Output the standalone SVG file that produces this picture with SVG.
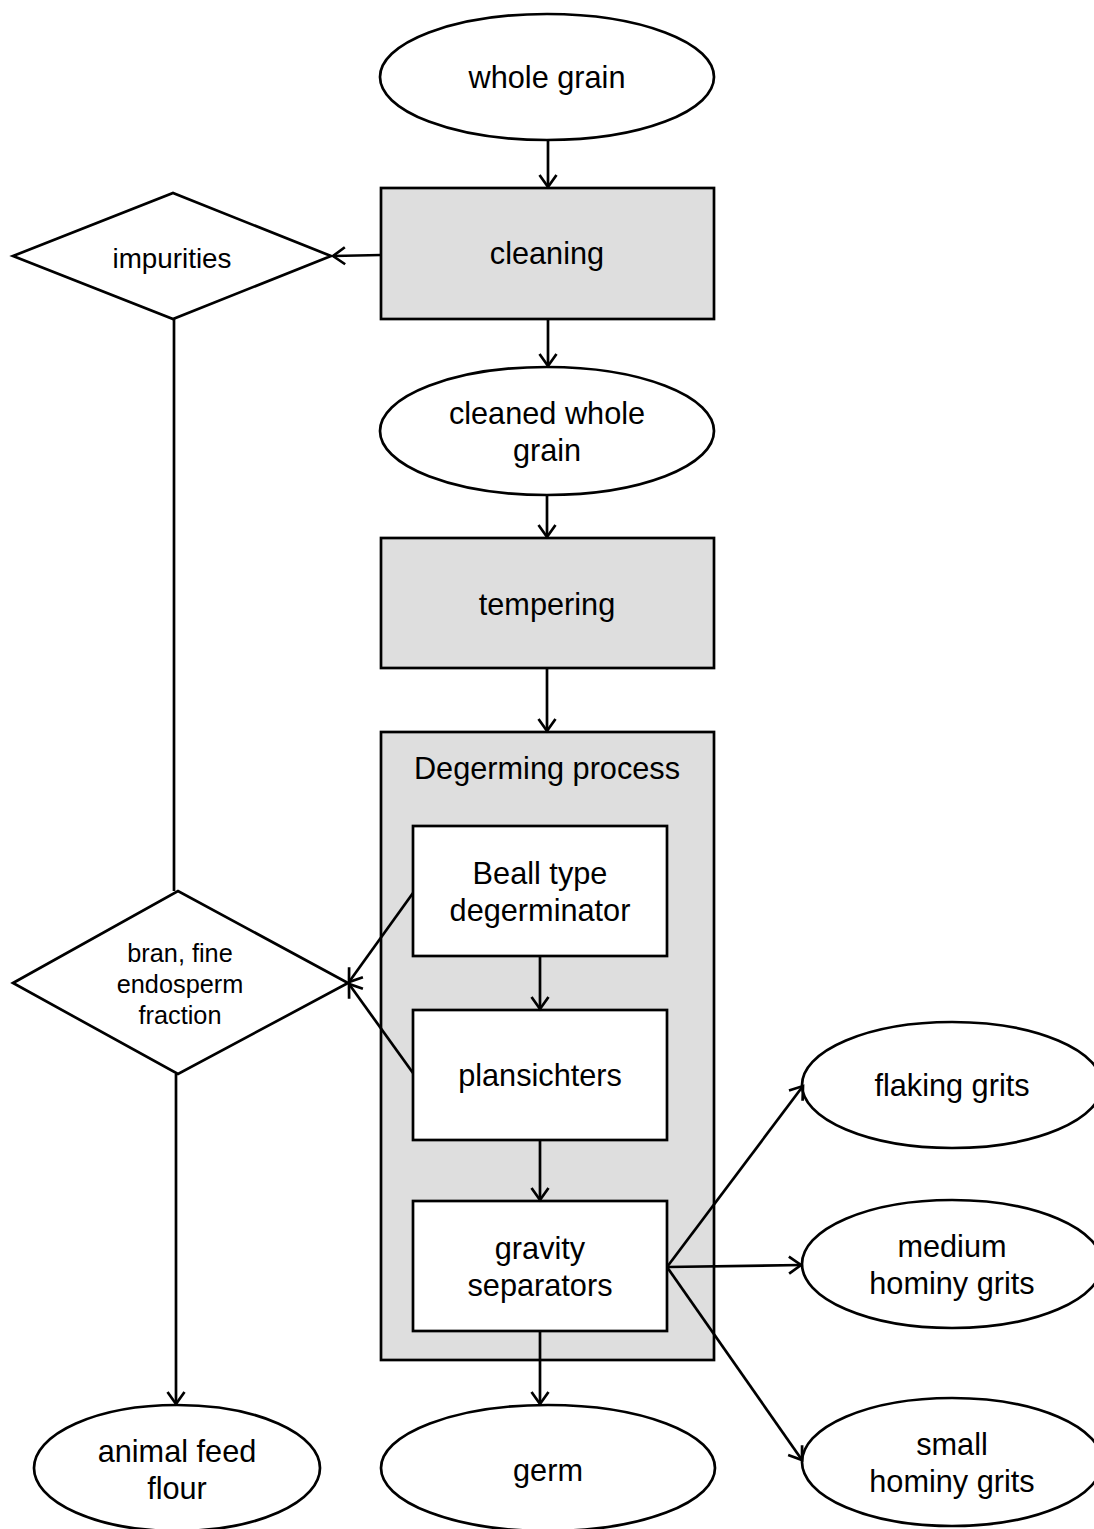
<svg xmlns="http://www.w3.org/2000/svg" width="1094" height="1529" viewBox="0 0 1094 1529">
<defs>
<marker id="arr" markerUnits="userSpaceOnUse" markerWidth="20" markerHeight="20" viewBox="-14 -10 16 20" refX="0" refY="0" orient="auto">
<path d="M-12,-8.5 L0,0 L-12,8.5" fill="none" stroke="#000" stroke-width="2.7"/>
</marker>
</defs>
<style>
.s{stroke:#000;stroke-width:2.7;}
.w{fill:#fff;}
.g{fill:#dedede;}
.t{font-family:"Liberation Sans",Arial,sans-serif;font-size:30.7px;text-anchor:middle;fill:#000;}
.sm{font-size:25.3px;}
.im{font-size:27.8px;}
.c{fill:none;stroke:#000;stroke-width:2.7;}
</style>
<rect width="1094" height="1529" fill="#fff"/>
<g id="degerming">
<rect class="s g" x="381" y="732" width="333" height="628"/>
<text class="t" x="547" y="779">Degerming process</text>
</g>
<g id="whole-grain">
<ellipse class="s w" cx="547" cy="77" rx="167" ry="63"/>
<text class="t" x="547" y="88">whole grain</text>
</g>
<g id="cleaning">
<rect class="s g" x="381" y="188" width="333" height="131"/>
<text class="t" x="547" y="264">cleaning</text>
</g>
<g id="impurities">
<polygon class="s w" points="13,256 173,193 331,256 173,319"/>
<text class="t im" x="172" y="268">impurities</text>
</g>
<g id="cleaned-whole-grain">
<ellipse class="s w" cx="547" cy="431" rx="167" ry="64"/>
<text class="t" x="547" y="424">cleaned whole</text>
<text class="t" x="547" y="461">grain</text>
</g>
<g id="tempering">
<rect class="s g" x="381" y="538" width="333" height="130"/>
<text class="t" x="547" y="615">tempering</text>
</g>
<g id="beall">
<rect class="s w" x="413" y="826" width="254" height="130"/>
<text class="t" x="540" y="884">Beall type</text>
<text class="t" x="540" y="921">degerminator</text>
</g>
<g id="plansichters">
<rect class="s w" x="413" y="1010" width="254" height="130"/>
<text class="t" x="540" y="1086">plansichters</text>
</g>
<g id="gravity">
<rect class="s w" x="413" y="1201" width="254" height="130"/>
<text class="t" x="540" y="1259">gravity</text>
<text class="t" x="540" y="1296">separators</text>
</g>
<g id="bran">
<polygon class="s w" points="13,983 178,891 348,983 178,1074"/>
<text class="t sm" x="180" y="962">bran, fine</text>
<text class="t sm" x="180" y="993">endosperm</text>
<text class="t sm" x="180" y="1024">fraction</text>
</g>
<g id="animal-feed">
<ellipse class="s w" cx="177" cy="1468" rx="143" ry="63"/>
<text class="t" x="177" y="1462">animal feed</text>
<text class="t" x="177" y="1499">flour</text>
</g>
<g id="germ">
<ellipse class="s w" cx="548" cy="1468" rx="167" ry="63"/>
<text class="t" x="548" y="1481">germ</text>
</g>
<g id="flaking">
<ellipse class="s w" cx="952" cy="1085" rx="150" ry="63"/>
<text class="t" x="952" y="1096">flaking grits</text>
</g>
<g id="medium">
<ellipse class="s w" cx="952" cy="1264" rx="150" ry="64"/>
<text class="t" x="952" y="1257">medium</text>
<text class="t" x="952" y="1294">hominy grits</text>
</g>
<g id="small">
<ellipse class="s w" cx="952" cy="1462" rx="150" ry="64"/>
<text class="t" x="952" y="1455">small</text>
<text class="t" x="952" y="1492">hominy grits</text>
</g>
<g id="connectors">
<line class="c" x1="548" y1="140" x2="548" y2="187" marker-end="url(#arr)"/>
<line class="c" x1="381" y1="255" x2="333" y2="256" marker-end="url(#arr)"/>
<line class="c" x1="548" y1="319" x2="548" y2="366" marker-end="url(#arr)"/>
<line class="c" x1="547" y1="495" x2="547" y2="537" marker-end="url(#arr)"/>
<line class="c" x1="547" y1="668" x2="547" y2="731" marker-end="url(#arr)"/>
<line class="c" x1="174" y1="319" x2="174" y2="891"/>
<line class="c" x1="540" y1="956" x2="540" y2="1009" marker-end="url(#arr)"/>
<line class="c" x1="540" y1="1140" x2="540" y2="1200" marker-end="url(#arr)"/>
<line class="c" x1="413" y1="893" x2="349" y2="982" marker-end="url(#arr)"/>
<line class="c" x1="413" y1="1073" x2="349" y2="984" marker-end="url(#arr)"/>
<line class="c" x1="176" y1="1074" x2="176" y2="1404" marker-end="url(#arr)"/>
<line class="c" x1="540" y1="1331" x2="540" y2="1404" marker-end="url(#arr)"/>
<line class="c" x1="667" y1="1267" x2="803" y2="1086" marker-end="url(#arr)"/>
<line class="c" x1="667" y1="1267" x2="801" y2="1265" marker-end="url(#arr)"/>
<line class="c" x1="667" y1="1267" x2="802" y2="1460" marker-end="url(#arr)"/>
</g>
</svg>
